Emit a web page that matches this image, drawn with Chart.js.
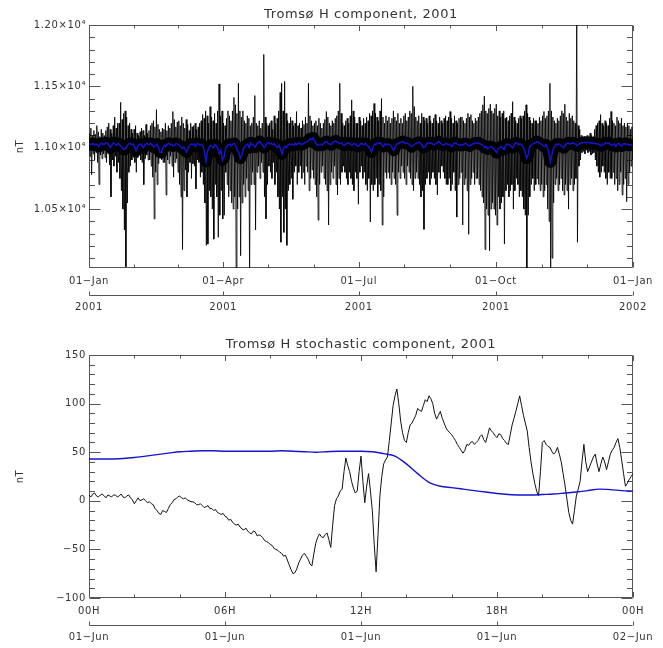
<!DOCTYPE html>
<html>
<head>
<meta charset="utf-8">
<script src="https://cdn.jsdelivr.net/npm/chart.js@4.4.1/dist/chart.umd.min.js"></script>
<style>
  body { margin: 0; background: #fff; }
  .panel { position: absolute; left: 0; }
</style>
</head>
<body>
<div class="panel" style="top:0"><canvas id="topChart" width="663" height="330"></canvas></div>
<div class="panel" style="top:330px"><canvas id="bottomChart" width="663" height="318"></canvas></div>
<script>
// ---- top panel: yearly H component (nT), day of year 0..365 ----
const topTickDays = [0, 90, 181, 273, 365];
const topTickLabels = ["01\u2212Jan", "01\u2212Apr", "01\u2212Jul", "01\u2212Oct", "01\u2212Jan"];
const topYearLabels = ["2001", "2001", "2001", "2001", "2002"];
const topYTicks = [10500, 11000, 11500, 12000];

// daily highest / lowest value of the hourly H trace
const hDailyMax = [
  11120, 11160, 11100, 11140, 11110, 11180, 11130, 11090, 11150, 11120,
  11100, 11140, 11170, 11200, 11150, 11120, 11180, 11250, 11160, 11200,
  11200, 11370, 11230, 11280, 11300, 11250, 11180, 11200, 11150, 11120,
  11150, 11180, 11120, 11100, 11130, 11160, 11140, 11100, 11190, 11120,
  11140, 11180, 11200, 11220, 11170, 11310, 11190, 11150, 11130, 11160,
  11150, 11200, 11140, 11180, 11160, 11200, 11295, 11230, 11170, 11210,
  11220, 11180, 11250, 11200, 11160, 11230, 11190, 11140, 11200, 11170,
  11180, 11200, 11150, 11170, 11200, 11220, 11270, 11240, 11300, 11260,
  11200, 11335, 11250, 11220, 11280, 11200, 11300, 11520, 11260, 11300,
  11200, 11180, 11240, 11300, 11260, 11220, 11300, 11410, 11350, 11280,
  11525, 11300, 11250, 11300, 11220, 11200, 11260, 11240, 11180, 11200,
  11250, 11425, 11200, 11180, 11220, 11160, 11200, 11760, 11250, 11200,
  11180, 11200, 11220, 11150, 11260, 11200, 11240, 11300, 11450, 11525,
  11300, 11540, 11280, 11220, 11200, 11250, 11220, 11180, 11200, 11295,
  11180, 11200, 11160, 11220, 11190, 11250, 11200, 11525, 11260, 11220,
  11180, 11200, 11220, 11180, 11240, 11200, 11160, 11200, 11230, 11295,
  11250, 11200, 11180, 11220, 11200, 11240, 11260, 11300, 11525, 11280,
  11200, 11180, 11220, 11240, 11200, 11260, 11390, 11300, 11250, 11200,
  11200, 11250, 11220, 11180, 11240, 11200, 11250, 11220, 11280, 11260,
  11300, 11360, 11280, 11250, 11220, 11300, 11400, 11250, 11200, 11260,
  11220, 11250, 11200, 11240, 11300, 11250, 11220, 11280, 11200, 11240,
  11200, 11260, 11280, 11220, 11250, 11300, 11280, 11500, 11335, 11250,
  11220, 11260, 11200, 11280, 11250, 11220, 11240, 11200, 11260, 11220,
  11200, 11240, 11270, 11220, 11200, 11250, 11220, 11200, 11240, 11260,
  11220, 11250, 11295, 11240, 11200, 11260, 11220, 11200, 11240, 11250,
  11250, 11220, 11200, 11240, 11280, 11250, 11270, 11220, 11200, 11240,
  11220, 11250, 11280, 11300, 11350, 11420, 11300, 11280, 11320, 11355,
  11300, 11280, 11320, 11355, 11260, 11300, 11250, 11280, 11300, 11240,
  11250, 11220, 11260, 11280, 11375, 11250, 11220, 11200, 11240, 11260,
  11240, 11260, 11300, 11350, 11280, 11250, 11220, 11200, 11240, 11220,
  11220, 11200, 11250, 11220, 11260, 11295, 11240, 11260, 11300, 11525,
  11300, 11250, 11220, 11200, 11240, 11220, 11260, 11300, 11280, 11355,
  11250, 11220, 11280, 11240, 11260, 11220, 11200, 12050, 11180, 11150,
  11100, 11080, 11090, 11070, 11100, 11080, 11120, 11100, 11090, 11150,
  11180, 11200, 11220, 11270, 11200, 11180, 11220, 11200, 11180, 11240,
  11295, 11220, 11200, 11180, 11250, 11220, 11200, 11240, 11180, 11200,
  11170, 11200, 11180, 11150, 11170
];
const hDailyMin = [
  10930, 10780, 10950, 10900, 10960, 10880, 10700, 10940, 10910, 10950,
  10920, 10880, 10950, 10860, 10600, 10900, 10850, 10930, 10800, 10880,
  10750, 10650, 10500, 10330, 10030, 10550, 10800, 10850, 10900, 10920,
  10880, 10800, 10920, 10950, 10900, 10880, 10700, 10910, 10940, 10900,
  10900, 10850, 10760, 10420, 10800, 10700, 10870, 10920, 10900, 10880,
  10880, 10615, 10900, 10870, 10930, 10850, 10760, 10880, 10910, 10800,
  10700, 10600, 10170, 10650, 10820, 10600, 10800, 10880, 10750, 10870,
  10850, 10665, 10900, 10880, 10760, 10800, 10700, 10550, 10205, 10215,
  10650, 10600, 10500, 10255, 10700, 10600, 10270, 10450, 10650, 10420,
  10450, 10800, 10700, 10600, 10650, 10550, 10500, 10600, 9950, 10500,
  10600, 10120, 10550, 10700, 10600, 10750, 10650, 9950, 10700, 10800,
  10700, 10330, 10800, 10850, 10750, 10880, 10800, 10600, 10420, 10700,
  10850, 10800, 10750, 10880, 10700, 10800, 10600, 10500, 10230, 10600,
  10310, 10500, 10205, 10650, 10700, 10750, 10580, 10800, 10850, 10700,
  10800, 10850, 10750, 10800, 10700, 10850, 10800, 10650, 10750, 10820,
  10750, 10700, 10600, 10410, 10700, 10800, 10850, 10750, 10700, 10650,
  10370, 10700, 10800, 10750, 10850, 10700, 10615, 10750, 10700, 10800,
  10850, 10800, 10750, 10700, 10800, 10750, 10700, 10650, 10800, 10750,
  10540, 10800, 10850, 10750, 10800, 10700, 10650, 10750, 10395, 10700,
  10650, 10700, 10750, 10600, 10700, 10650, 10370, 10600, 10800, 10750,
  10800, 10750, 10700, 10800, 10750, 10700, 10450, 10800, 10750, 10850,
  10800, 10750, 10700, 10850, 10800, 10750, 10700, 10650, 10750, 10800,
  10750, 10700, 10600, 10650, 10335, 10700, 10750, 10800, 10700, 10750,
  10800, 10750, 10700, 10615, 10800, 10750, 10850, 10800, 10750, 10700,
  10700, 10750, 10650, 10700, 10800, 10650, 10435, 10700, 10750, 10800,
  10370, 10700, 10750, 10650, 10295, 10700, 10750, 10800, 10700, 10750,
  10750, 10700, 10650, 10600, 10550, 10170, 10500, 10450, 10160, 10500,
  10550, 10500, 10450, 10370, 10600, 10500, 10550, 10600, 10215, 10650,
  10700, 10600, 10650, 10700, 10500, 10650, 10750, 10700, 10600, 10650,
  10600, 10500, 10450, 9950, 10450, 10600, 10700, 10750, 10650, 10700,
  10750, 10700, 10650, 10700, 10600, 10650, 10700, 10500, 10400, 9950,
  10100, 10550, 10700, 10750, 10650, 10700, 10750, 10650, 10615, 10700,
  10650, 10500, 10700, 10750, 10650, 10700, 10750, 10230, 10850, 10900,
  10960, 10970, 10950, 10980, 10960, 10970, 10940, 10950, 10960, 10900,
  10850, 10800, 10760, 10800, 10850, 10800, 10750, 10700, 10800, 10750,
  10750, 10800, 10700, 10750, 10650, 10700, 10800, 10615, 10700, 10750,
  10560, 10700, 10800, 10850, 10900
];
// smoothed H (blue), one value per day
const hSmooth = [
  11030, 11025, 11035, 11020, 11030, 11025, 11010, 11030, 11035, 11025,
  11030, 11040, 11035, 11020, 11000, 11025, 11040, 11030, 11020, 11035,
  11025, 11010, 11000, 10985, 10990, 11015, 11030, 11035, 11025, 11030,
  11010, 10975, 11005, 11025, 11030, 11020, 11000, 11025, 11035, 11030,
  11025, 11035, 11020, 11005, 11015, 11030, 11010, 10965, 10960, 11000,
  11020, 11010, 11030, 11035, 11025, 11030, 11015, 11020, 11035, 11030,
  11020, 11010, 10995, 11005, 10985, 10965, 10995, 11020, 11030, 11025,
  11030, 11010, 11035, 11030, 11020, 11025, 11015, 10960, 10890, 10970,
  11000, 11020, 11010, 11000, 11025, 11015, 10990, 10950, 10980, 10900,
  10920, 10990, 11010, 11025, 11030, 11015, 11030, 11035, 11010, 10980,
  10960, 10915, 10940, 10990, 11010, 11020, 11030, 11000, 11040, 11025,
  11020, 11005, 11030, 11040, 11050, 11035, 11020, 11000, 11015, 11035,
  11040, 11030, 11035, 11025, 11030, 11010, 11000, 11020, 10990, 10950,
  10990, 11010, 11000, 11020, 11030, 11025, 11030, 11020, 11035, 11025,
  11040, 11035, 11025, 11030, 11040, 11045, 11050, 11060, 11075, 11065,
  11080, 11055, 11030, 11020, 11025, 11030, 11020, 11035, 11045, 11050,
  11035, 11030, 11025, 11040, 11050, 11055, 11045, 11040, 11035, 11040,
  11025, 11020, 11030, 11040, 11035, 11030, 11020, 11035, 11030, 11025,
  11010, 11020, 11035, 11030, 11025, 11035, 11020, 11010, 10990, 10965,
  11000, 11030, 11025, 11040, 11035, 11040, 11020, 11010, 11030, 11025,
  11030, 11025, 11020, 10995, 10980, 11010, 11030, 11035, 11040, 11045,
  11050, 11040, 11035, 11040, 11030, 11020, 11010, 11020, 11030, 11035,
  11040, 11045, 11035, 11020, 11000, 11010, 11030, 11040, 11035, 11040,
  11030, 11025, 11030, 11040, 11050, 11040, 11030, 11020, 11025, 11035,
  11030, 11025, 11020, 11010, 11030, 11040, 11035, 11030, 11020, 11025,
  11020, 11030, 11035, 11030, 11020, 11015, 11025, 11030, 11035, 11040,
  11035, 11040, 11030, 11025, 11020, 11000, 11010, 10990, 11000, 11010,
  11005, 10990, 10975, 10960, 10990, 11000, 11010, 11000, 10985, 11020,
  11030, 11025, 11020, 11005, 11000, 11030, 11040, 11035, 11025, 11030,
  11020, 11000, 10970, 10915, 10935, 11000, 11020, 11030, 11035, 11040,
  11050, 11045, 11035, 11030, 11020, 11010, 11025, 11000, 10960, 10885,
  10940, 10990, 11010, 11030, 11025, 11030, 11020, 11010, 11000, 11020,
  11035, 11040, 11030, 11035, 11040, 11035, 11030, 11015, 11030, 11035,
  11040, 11040, 11045, 11040, 11045, 11040, 11040, 11035, 11040, 11035,
  11030, 11030, 11025, 11015, 11030, 11025, 11040, 11035, 11040, 11030,
  11020, 11025, 11030, 11010, 11030, 11035, 11020, 11015, 11030, 11035,
  11025, 11030, 11020, 11025, 11020
];

// ---- bottom panel: stochastic component on 1 June (nT), hours 0..24 ----
const bottomTickHours = [0, 6, 12, 18, 24];
const bottomTickLabels = ["00H", "06H", "12H", "18H", "00H"];
const bottomDateLabels = ["01\u2212Jun", "01\u2212Jun", "01\u2212Jun", "01\u2212Jun", "02\u2212Jun"];
const bottomYTicks = [-100, -50, 0, 50, 100, 150];

// black trace, one value every 5 minutes (one row = 2 hours)
const stochStepMin = 5;
const stochBlack = [
  6, 4, 7, 8, 5, 4, 6, 7, 5, 3, 6, 5, 4, 6, 6, 4, 5, 7, 4, 3, 5, 6, 3, 1,
  -3, 0, 3, 0, 1, 2, 0, -2, -1, -3, -4, -8, -10, -13, -14, -10, -11, -12, -8, -4, -2, 1, 2, 4,
  5, 3, 2, 3, 1, 0, -1, -1, -2, -4, -4, -3, -5, -7, -6, -5, -8, -8, -10, -9, -12, -13, -14, -13,
  -16, -17, -20, -19, -22, -24, -25, -24, -27, -29, -30, -28, -31, -33, -34, -31, -32, -36, -35, -36, -38, -41, -42, -43,
  -45, -46, -49, -50, -51, -53, -54, -57, -56, -61, -66, -71, -75, -74, -70, -64, -60, -56, -54, -57, -60, -65, -67, -55,
  -44, -38, -34, -37, -38, -35, -33, -40, -48, -25, -5, 2, 5, 10, 12, 30, 44, 36, 30, 20, 13, 8, 10, 30,
  46, 20, -2, 15, 28, 10, -10, -45, -73, -35, 5, 25, 38, 42, 45, 62, 80, 98, 108, 115, 100, 82, 70, 62,
  60, 70, 78, 80, 84, 88, 95, 93, 92, 98, 104, 102, 108, 105, 100, 90, 84, 88, 92, 85, 80, 75, 72, 70,
  68, 65, 62, 58, 55, 52, 49, 52, 58, 57, 60, 61, 58, 60, 62, 66, 68, 63, 60, 67, 75, 72, 70, 67,
  65, 69, 68, 64, 62, 59, 58, 68, 78, 85, 92, 100, 108, 98, 88, 80, 72, 55, 40, 28, 18, 10, 5, 30,
  60, 62, 58, 56, 55, 51, 48, 50, 55, 48, 40, 28, 16, 2, -12, -20, -24, -10, 5, 12, 20, 40, 58, 40,
  30, 35, 40, 45, 48, 38, 30, 38, 45, 40, 32, 40, 48, 52, 55, 60, 64, 55, 42, 28, 15, 18, 22, 25,
  28
];
// blue trace, one value every 30 minutes
const blueStepMin = 30;
const stochBlue = [
  43, 43, 43, 43.5, 44.5, 46, 47.5, 49, 50.5, 51,
  51.5, 51.5, 51, 51, 51, 51, 51, 51.5, 51, 50.5,
  50, 50.5, 51, 51, 51, 50.5, 48.5, 46, 38, 28,
  19, 15, 13.5, 12, 10.5, 9, 7.5, 6.5, 6, 6,
  6.5, 7, 8, 9, 10.5, 12, 11.5, 10.5, 10
];

const FONT = "'DejaVu Sans', sans-serif";
const TEXT = "#333";
Chart.defaults.font.family = FONT;
Chart.defaults.color = TEXT;

// wider text like the original plotting package
const spacing = {
  id: "spacing",
  beforeLayout(c) { c.ctx.letterSpacing = "0.6px"; },
  beforeDraw(c) { c.ctx.letterSpacing = "0.6px"; }
};

// box with inward ticks on all four sides, plus the second date axis line
const idlAxes = {
  id: "idlAxes",
  beforeDatasetsDraw(chart, args, o) {
    const {ctx, chartArea: a, scales} = chart;
    const xs = scales.x, ys = scales.y, x2 = scales.x2;
    ctx.save();
    ctx.letterSpacing = "0px";
    ctx.strokeStyle = "#555";
    ctx.lineWidth = 1;
    const L = a.left + 0.5, R = a.right - 0.5, T = a.top + 0.5, B = a.bottom - 0.5;
    ctx.beginPath();
    ctx.rect(L, T, R - L, B - T);
    // y ticks
    for (let v = Math.ceil(o.yMin / o.yMinor) * o.yMinor; v <= o.yMax + 1e-9; v += o.yMinor) {
      const len = (Math.abs(v % o.yMajor) < 1e-9) ? 11 : 5.5;
      const py = Math.round(ys.getPixelForValue(v)) + 0.5;
      ctx.moveTo(L, py); ctx.lineTo(L + len, py);
      ctx.moveTo(R, py); ctx.lineTo(R - len, py);
    }
    // x ticks
    const xm = o.xMajor;
    xm.forEach((v, i) => {
      const px = Math.round(xs.getPixelForValue(v)) + 0.5;
      ctx.moveTo(px, B); ctx.lineTo(px, B - 5.5);
      ctx.moveTo(px, T); ctx.lineTo(px, T + 5.5);
      if (i < xm.length - 1) {
        for (let k = 1; k < o.xMinorDiv; k++) {
          const mv = v + (xm[i + 1] - v) * k / o.xMinorDiv;
          const mx = Math.round(xs.getPixelForValue(mv)) + 0.5;
          ctx.moveTo(mx, B); ctx.lineTo(mx, B - 3);
          ctx.moveTo(mx, T); ctx.lineTo(mx, T + 3);
        }
      }
    });
    // second (date) axis
    const y2 = Math.round(x2.top) + 0.5;
    ctx.moveTo(L, y2); ctx.lineTo(R, y2);
    xm.forEach(v => {
      const px = Math.round(x2.getPixelForValue(v)) + 0.5;
      ctx.moveTo(px, y2); ctx.lineTo(px, y2 - 4);
    });
    ctx.stroke();
    ctx.restore();
  }
};

function axisX(min, max, ticks, labels, height, pad) {
  return {
    type: "linear", position: "bottom", min: min, max: max,
    afterFit(s) { s.height = height; },
    afterBuildTicks(s) { s.ticks = ticks.map(v => ({value: v})); },
    grid: {display: false, drawTicks: false},
    border: {display: false},
    ticks: {autoSkip: false, maxRotation: 0, padding: pad, color: TEXT,
      font: {size: 10}, callback: (v, i) => labels[i]}
  };
}

function axisY(min, max, ticks, fmt) {
  return {
    type: "linear", min: min, max: max,
    afterFit(s) { s.width = 89; },
    afterBuildTicks(s) { s.ticks = ticks.map(v => ({value: v})); },
    grid: {display: false, drawTicks: false},
    border: {display: false},
    ticks: {padding: 3, color: TEXT, font: {size: 10}, callback: fmt},
    title: {display: true, text: "nT", color: TEXT, font: {size: 10}, padding: {top: 14}}
  };
}

function titleOpts(text) {
  return {display: true, text: text, fullSize: false, color: TEXT,
    font: {size: 13, weight: "normal"}, padding: {top: 7, bottom: 2.4}};
}

// top chart
const hRaw = [];
hDailyMax.forEach((v, d) => {
  hRaw.push({x: d + 0.25, y: v});
  hRaw.push({x: d + 0.75, y: hDailyMin[d]});
});
const hBlue = hSmooth.map((v, d) => ({x: d + 0.5, y: v}));

new Chart(document.getElementById("topChart"), {
  type: "line",
  data: {
    datasets: [
      {data: hBlue, borderColor: "#1414d2", borderWidth: 1.5, pointRadius: 0, tension: 0},
      {data: hRaw, borderColor: "#000", borderWidth: 0.85, pointRadius: 0, tension: 0},
      // dense hourly core of the trace around the smoothed level
      {data: hBlue, borderColor: "#000", borderWidth: 12, borderJoinStyle: "round", pointRadius: 0, tension: 0}
    ]
  },
  options: {
    responsive: false, animation: false, devicePixelRatio: 1,
    layout: {padding: {left: 0, right: 30, top: 0, bottom: 0}},
    scales: {
      x: axisX(0, 365, topTickDays, topTickLabels, 27, 7),
      x2: axisX(0, 365, topTickDays, topYearLabels, 35, 6),
      y: axisY(10020, 12000, topYTicks, v => (v / 1e4).toFixed(2) + "\u00d710\u2074")
    },
    plugins: {
      legend: {display: false}, tooltip: {enabled: false},
      title: titleOpts("Troms\u00f8 H component, 2001"),
      idlAxes: {xMajor: topTickDays, xMinorDiv: 3, yMin: 10020, yMax: 12000, yMajor: 500, yMinor: 100}
    }
  },
  plugins: [spacing, idlAxes]
});

// bottom chart
const sBlack = stochBlack.map((v, i) => ({x: i * stochStepMin / 60, y: v}));
const sBlue = stochBlue.map((v, i) => ({x: i * blueStepMin / 60, y: v}));

new Chart(document.getElementById("bottomChart"), {
  type: "line",
  data: {
    datasets: [
      {data: sBlue, borderColor: "#1414d2", borderWidth: 1.4, pointRadius: 0, tension: 0.4, cubicInterpolationMode: "monotone"},
      {data: sBlack, borderColor: "#111", borderWidth: 1, pointRadius: 0, tension: 0}
    ]
  },
  options: {
    responsive: false, animation: false, devicePixelRatio: 1,
    layout: {padding: {left: 0, right: 30, top: 0, bottom: 0}},
    scales: {
      x: axisX(0, 24, bottomTickHours, bottomTickLabels, 27, 7),
      x2: axisX(0, 24, bottomTickHours, bottomDateLabels, 23, 6),
      y: axisY(-100, 150, bottomYTicks, v => (v < 0 ? "\u2212" + Math.abs(v) : String(v)))
    },
    plugins: {
      legend: {display: false}, tooltip: {enabled: false},
      title: titleOpts("Troms\u00f8 H stochastic component, 2001"),
      idlAxes: {xMajor: bottomTickHours, xMinorDiv: 3, yMin: -100, yMax: 150, yMajor: 50, yMinor: 10}
    }
  },
  plugins: [spacing, idlAxes]
});
</script>
</body>
</html>
